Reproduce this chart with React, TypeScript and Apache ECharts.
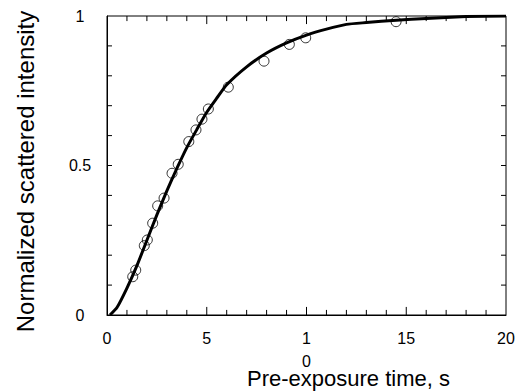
import React, { useEffect, useRef } from "react";
import * as echarts from "echarts";

const curveX = [0.15, 0.5, 1.0, 1.5, 2.0, 2.5, 3.0, 3.5, 4.0, 4.5, 5.0, 5.5, 6.0, 7.0, 8.0, 9.0, 10.0, 11.0, 12.0, 13.0, 14.5, 16.0, 18.0, 20.0];
const curveY = [0.0, 0.025, 0.09, 0.165, 0.25, 0.335, 0.415, 0.49, 0.56, 0.62, 0.678, 0.725, 0.77, 0.83, 0.876, 0.91, 0.936, 0.956, 0.972, 0.978, 0.986, 0.992, 0.998, 1.0];

const obsX = [1.29, 1.44, 1.87, 2.02, 2.29, 2.54, 2.86, 3.26, 3.57, 4.1, 4.46, 4.76, 5.08, 6.08, 7.87, 9.14, 9.96, 14.49];
const obsY = [0.128, 0.15, 0.232, 0.251, 0.307, 0.365, 0.391, 0.474, 0.504, 0.58, 0.619, 0.655, 0.689, 0.762, 0.849, 0.905, 0.927, 0.981];

const xTickValues = [1, 2, 3, 4, 5, 6, 7, 8, 9, 10, 11, 12, 13, 14, 15, 16, 17, 18, 19];
const yTickValues = [0.1, 0.2, 0.3, 0.4, 0.5, 0.6, 0.7, 0.8, 0.9];

const xTickLabels: Record<number, string> = { 0: "0", 5: "5", 10: "1\n0", 15: "15", 20: "20" };
const yTickLabels: Record<number, string> = { 0: "0", 0.5: "0.5", 1: "1" };

const X_MIN = 0;
const X_MAX = 20;
const Y_MIN = 0;
const Y_MAX = 1;

// tick lengths expressed in axis units (styling)
const X_MAJOR_LEN = 0.027;
const X_MINOR_LEN = 0.017;
const Y_TICK_LEN = 0.25;

const FONT = "Liberation Sans, Arial, Helvetica, sans-serif";

export default function App() {
  const ref = useRef<HTMLDivElement>(null);
  useEffect(() => {
    if (!ref.current) return;
    const chart = echarts.init(ref.current, null, { renderer: "svg" });

    const frameData = [
      [X_MIN, Y_MIN],
      [X_MAX, Y_MIN],
      [X_MAX, Y_MAX],
      [X_MIN, Y_MAX],
      [X_MIN, Y_MIN],
    ];
    const tickData: any[] = [];
    xTickValues.forEach((x) => {
      const len = x % 5 === 0 ? X_MAJOR_LEN : X_MINOR_LEN;
      tickData.push([x, Y_MIN], [x, Y_MIN + len], [x, null]);
      tickData.push([x, Y_MAX], [x, Y_MAX - len], [x, null]);
    });
    yTickValues.forEach((y) => {
      tickData.push([X_MIN, y], [X_MIN + Y_TICK_LEN, y], [X_MIN, null]);
      tickData.push([X_MAX, y], [X_MAX - Y_TICK_LEN, y], [X_MAX, null]);
    });

    chart.setOption({
      animation: false,
      backgroundColor: "#fff",
      grid: {
        left: 107,
        right: 10,
        top: 16,
        bottom: 77,
        containLabel: false,
        outerBoundsMode: "none",
      },
      xAxis: {
        type: "value",
        min: X_MIN,
        max: X_MAX,
        interval: 5,
        axisLine: { show: true, lineStyle: { color: "#000", width: 1 } },
        axisTick: { show: false },
        splitLine: { show: false },
        axisLabel: {
          color: "#000",
          fontFamily: FONT,
          fontSize: 16,
          margin: 12,
          lineHeight: 23,
          formatter: (v: number) => xTickLabels[v] ?? "",
        },
        name: "Pre-exposure time, s",
        nameLocation: "middle",
        nameGap: 52,
        nameMoveOverlap: false,
        nameTextStyle: { color: "#000", fontFamily: FONT, fontSize: 22, padding: [0, 0, 0, 84] },
      },
      yAxis: {
        type: "value",
        min: Y_MIN,
        max: Y_MAX,
        interval: 0.5,
        axisLine: { show: true, lineStyle: { color: "#000", width: 1 } },
        axisTick: { show: false },
        splitLine: { show: false },
        axisLabel: {
          color: "#000",
          fontFamily: FONT,
          fontSize: 16,
          margin: 27,
          align: "center",
          formatter: (v: number) => yTickLabels[v] ?? "",
        },
        name: "Normalized scattered intensity",
        nameLocation: "middle",
        nameGap: 70,
        nameMoveOverlap: false,
        nameTextStyle: { color: "#000", fontFamily: FONT, fontSize: 24, padding: [0, 12, 0, 0] },
      },
      series: [
        {
          type: "line",
          data: frameData,
          showSymbol: false,
          silent: true,
          clip: false,
          lineStyle: { color: "#000", width: 1 },
          z: 5,
        },
        {
          type: "line",
          data: tickData,
          showSymbol: false,
          silent: true,
          clip: false,
          connectNulls: false,
          lineStyle: { color: "#000", width: 1 },
          z: 5,
        },
        {
          type: "line",
          data: curveX.map((x, i) => [x, curveY[i]]),
          showSymbol: false,
          smooth: 0.2,
          lineStyle: { color: "#000", width: 3 },
          z: 3,
        },
        {
          type: "scatter",
          data: obsX.map((x, i) => [x, obsY[i]]),
          symbol: "circle",
          symbolSize: 10,
          itemStyle: { color: "rgba(0,0,0,0)", borderColor: "#000", borderWidth: 1 },
          z: 4,
        },
      ],
    });
    return () => chart.dispose();
  }, []);
  return (
    <div
      ref={ref}
      style={{ position: "fixed", left: 0, top: 0, width: 516, height: 392 }}
    />
  );
}
